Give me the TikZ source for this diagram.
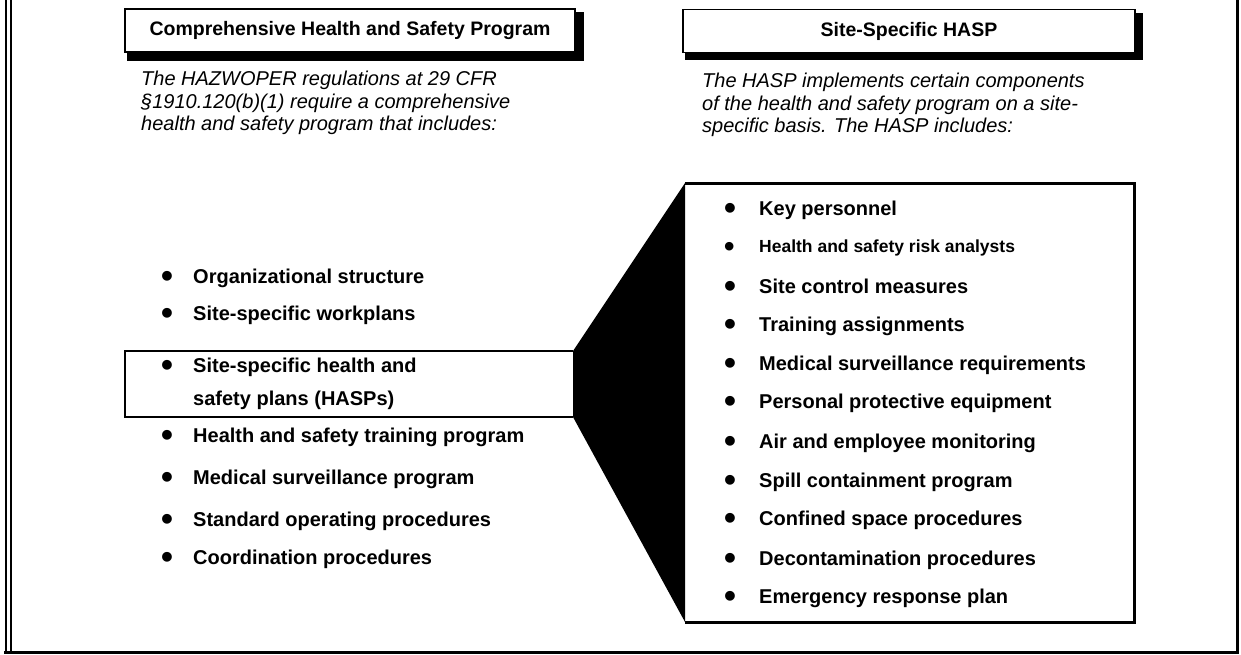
\documentclass[tikz,border=0pt]{standalone}
\usepackage{fontspec}
\setmainfont{Liberation Sans}
\newcommand{\dotmark}{\raisebox{-0.2em}{\scalebox{1.7}{\textbullet}}}
\newcommand{\lbul}[1]{\makebox[32pt][l]{\dotmark}#1}
\newcommand{\rbul}[1]{\makebox[35pt][l]{\dotmark}#1}
\begin{document}
\begin{tikzpicture}[x=1pt,y=-1pt,line join=miter,
  headbox/.style={draw,line width=1.2pt,minimum width=450pt,minimum height=43pt,inner sep=0pt,font=\fontsize{19.5}{23}\selectfont\bfseries},
  intro/.style={anchor=west,align=left,inner sep=0pt,font=\fontsize{20}{22.5}\selectfont\itshape},
  point/.style={anchor=west,align=left,inner sep=0pt,font=\fontsize{20}{33}\selectfont\bfseries}]
\useasboundingbox (0,0) rectangle (1241,654);
% outer frame
\draw[line width=2pt] (6,0)--(6,652.5);
\draw[line width=2pt] (11,0)--(11,652.5);
\draw[line width=3pt] (4,652.5)--(1237,652.5)--(1237,0);
% headings with shadow
\node[headbox] (hl) at (350,30.5) {Comprehensive Health and Safety Program};
\node[headbox,minimum width=452pt] (hr) at (909,31) {Site-Specific HASP};
\fill ([xshift=3pt]hl.south west) rectangle ([xshift=8pt,yshift=-8pt]hl.south east);
\fill ([yshift=-4pt]hl.north east) rectangle ([xshift=8pt]hl.south east);
\fill ([xshift=3pt]hr.south west) rectangle ([xshift=7pt,yshift=-7pt]hr.south east);
\fill ([yshift=-4pt]hr.north east) rectangle ([xshift=7pt]hr.south east);
\node[intro] (il) at (141,103) {The HAZWOPER regulations at 29 CFR\\\S1910.120(b)(1) require a comprehensive\\health and safety program that includes:};
\node[intro] (ir) at (702,105) {The HASP implements certain components\\of the health and safety program on a site-\\specific basis. The HASP includes:};
% wedge and boxes
\fill (573,351)--(685,183)--(685,622)--(573,417)--cycle;
\draw[line width=3pt] (685,183)--(1134,183)--(1134,622)--(685,622);
\draw[line width=2.5pt] (573,351)--(124,351);
\draw[line width=1.2pt] (125,351)--(125,417);
\draw[line width=2.5pt] (124,417)--(573,417);
% program items
\node[point] (p1) at (161,278) {\lbul{Organizational structure}};
\node[point] (p2) at (161,315) {\lbul{Site-specific workplans}};
\node[point] (p3) at (161,384) {\lbul{Site-specific health and}\\\hspace*{32pt}safety plans (HASPs)};
\node[point] (p4) at (161,437) {\lbul{Health and safety training program}};
\node[point] (p5) at (161,479) {\lbul{Medical surveillance program}};
\node[point] (p6) at (161,521) {\lbul{Standard operating procedures}};
\node[point] (p7) at (161,559) {\lbul{Coordination procedures}};
% hasp items
\node[point] (h1) at (724,210) {\rbul{Key personnel}};
\node[point,font=\fontsize{17.5}{20}\selectfont\bfseries] (h2) at (724,248) {\rbul{Health and safety risk analysts}};
\node[point] (h3) at (724,288) {\rbul{Site control measures}};
\node[point] (h4) at (724,326) {\rbul{Training assignments}};
\node[point] (h5) at (724,365) {\rbul{Medical surveillance requirements}};
\node[point] (h6) at (724,403) {\rbul{Personal protective equipment}};
\node[point] (h7) at (724,443) {\rbul{Air and employee monitoring}};
\node[point] (h8) at (724,482) {\rbul{Spill containment program}};
\node[point] (h9) at (724,520) {\rbul{Confined space procedures}};
\node[point] (h10) at (724,560) {\rbul{Decontamination procedures}};
\node[point] (h11) at (724,598) {\rbul{Emergency response plan}};
\end{tikzpicture}
\end{document}
